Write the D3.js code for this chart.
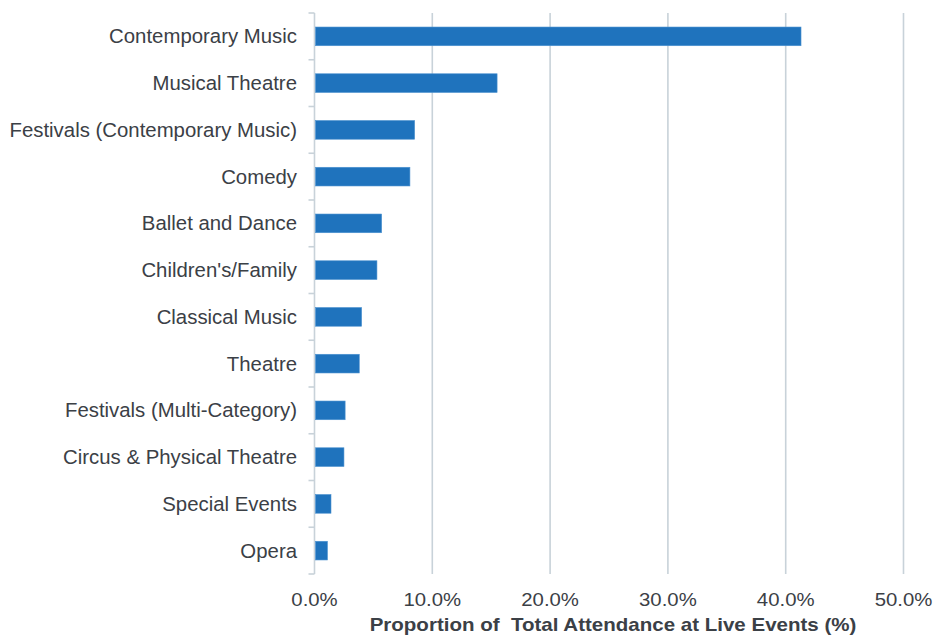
<!DOCTYPE html>
<html>
<head>
<meta charset="utf-8">
<script src="https://cdn.jsdelivr.net/npm/d3@7"></script>
<style>
  html, body { margin: 0; padding: 0; background: #fff; }
  svg { display: block; }
</style>
</head>
<body>
<svg id="chart" width="934" height="635"></svg>
<script>
// Attendance share by event category (%)
const categories = [
  "Contemporary Music",
  "Musical Theatre",
  "Festivals (Contemporary Music)",
  "Comedy",
  "Ballet and Dance",
  "Children's/Family",
  "Classical Music",
  "Theatre",
  "Festivals (Multi-Category)",
  "Circus & Physical Theatre",
  "Special Events",
  "Opera"
];
const shares = [41.3, 15.5, 8.5, 8.1, 5.7, 5.3, 4.0, 3.8, 2.6, 2.5, 1.4, 1.1];
const xTicks = [0, 10, 20, 30, 40, 50];
const xTitle = "Proportion of  Total Attendance at Live Events (%)";

const svg = d3.select("#chart");
const plotLeft = 314.5, plotRight = 903.5, plotTop = 13, plotBottom = 574;

const x = d3.scaleLinear().domain([0, 50]).range([plotLeft, plotRight]);
const y = d3.scaleBand().domain(categories).range([plotTop, plotBottom]).paddingInner(0.6).paddingOuter(0.3);

const gridColor = "#c8d2d9";
const textColor = "#3b4046";
const font = "Liberation Sans, Arial, sans-serif";

// vertical gridlines
svg.append("g")
  .selectAll("line")
  .data(xTicks.slice(1))
  .join("line")
  .attr("x1", d => x(d)).attr("x2", d => x(d))
  .attr("y1", plotTop).attr("y2", plotBottom)
  .attr("stroke", gridColor)
  .attr("stroke-width", 1.6);

// category axis line with ticks at band boundaries
const step = (plotBottom - plotTop) / categories.length;
const bounds = d3.range(categories.length + 1).map(i => plotTop + i * step);
svg.append("line")
  .attr("x1", plotLeft).attr("x2", plotLeft)
  .attr("y1", plotTop).attr("y2", plotBottom)
  .attr("stroke", gridColor).attr("stroke-width", 1.6);
svg.append("g")
  .selectAll("line")
  .data(bounds)
  .join("line")
  .attr("x1", plotLeft - 6).attr("x2", plotLeft)
  .attr("y1", d => d).attr("y2", d => d)
  .attr("stroke", gridColor).attr("stroke-width", 1.6);

// bars
svg.append("g")
  .selectAll("rect")
  .data(categories)
  .join("rect")
  .attr("x", x(0) + 1)
  .attr("y", d => y(d))
  .attr("width", (d, i) => x(shares[i]) - x(0) - 1)
  .attr("height", y.bandwidth())
  .attr("fill", "#1f73bd")
  .attr("stroke", "#4d92d0")
  .attr("stroke-width", 0.6);

// category labels
svg.append("g")
  .selectAll("text")
  .data(categories)
  .join("text")
  .attr("transform", d => `translate(297,${y(d) + y.bandwidth() / 2}) scale(1.045,1)`)
  .attr("dy", "0.36em")
  .attr("text-anchor", "end")
  .attr("font-family", font)
  .attr("font-size", 19.5)
  .attr("fill", textColor)
  .text(d => d);

// value axis labels
svg.append("g")
  .selectAll("text")
  .data(xTicks)
  .join("text")
  .attr("transform", d => `translate(${x(d)},606) scale(1.1,1)`)
  .attr("text-anchor", "middle")
  .attr("font-family", font)
  .attr("font-size", 18.5)
  .attr("fill", textColor)
  .text(d => d3.format(".1f")(d) + "%");

// axis title
svg.append("text")
  .attr("transform", `translate(613,631) scale(1.14,1)`)
  .attr("text-anchor", "middle")
  .attr("font-family", font)
  .attr("font-size", 18)
  .attr("font-weight", "bold")
  .attr("fill", textColor)
  .style("white-space", "pre")
  .text(xTitle);
</script>
</body>
</html>
